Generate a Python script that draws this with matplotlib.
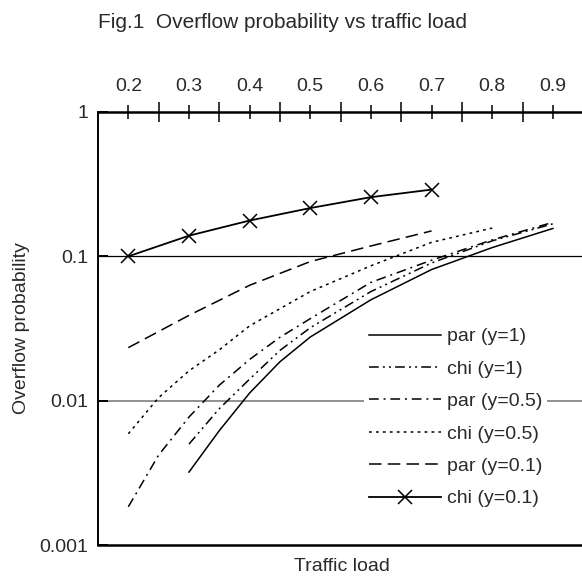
import matplotlib
matplotlib.use("Agg")
import matplotlib.pyplot as plt
from matplotlib.ticker import FixedLocator, NullFormatter

plt.rcParams['font.family'] = ['Liberation Sans', 'DejaVu Sans']
plt.rcParams['lines.scale_dashes'] = False

# overflow probability per traffic load, one pair of arrays per curve
par_y1_x = [0.3, 0.35, 0.4, 0.45, 0.5, 0.6, 0.7, 0.8, 0.9]
par_y1 = [0.0032, 0.0062, 0.0113, 0.0186, 0.0276, 0.050, 0.081, 0.115, 0.156]

chi_y1_x = [0.3, 0.35, 0.4, 0.45, 0.5, 0.6, 0.7, 0.8, 0.9]
chi_y1 = [0.0050, 0.0088, 0.0141, 0.0223, 0.032, 0.057, 0.090, 0.128, 0.168]

par_y05_x = [0.2, 0.25, 0.3, 0.35, 0.4, 0.45, 0.5, 0.6, 0.7, 0.8, 0.9]
par_y05 = [0.00184, 0.0042, 0.0077, 0.0128, 0.0193, 0.0275, 0.037, 0.066, 0.094, 0.130, 0.172]

chi_y05_x = [0.2, 0.25, 0.3, 0.35, 0.4, 0.5, 0.6, 0.7, 0.8]
chi_y05 = [0.0059, 0.0105, 0.0161, 0.0225, 0.033, 0.057, 0.086, 0.125, 0.157]

par_y01_x = [0.2, 0.3, 0.4, 0.5, 0.6, 0.7]
par_y01 = [0.0233, 0.039, 0.063, 0.092, 0.118, 0.150]

chi_y01_x = [0.2, 0.3, 0.4, 0.5, 0.6, 0.7]
chi_y01 = [0.100, 0.139, 0.177, 0.216, 0.257, 0.290]

x_ticks = [0.2, 0.3, 0.4, 0.5, 0.6, 0.7, 0.8, 0.9]
x_minor = [0.25, 0.35, 0.45, 0.55, 0.65, 0.75, 0.85]
y_ticks = [0.001, 0.01, 0.1, 1]
y_labels = ['0.001', '0.01', '0.1', '1']

text_col = '#2a2a2a'
fs = 14

fig = plt.figure(figsize=(5.82, 5.82), dpi=100)
ax = fig.add_axes([98 / 582, 37 / 582, 487 / 582, 433 / 582])

ax.set_yscale('log')
ax.set_xlim(0.15, 0.953)
ax.set_ylim(0.001, 1)

# reference levels
ax.axhline(0.1, color='black', lw=0.9, zorder=1)
ax.axhline(0.01, color='#888888', lw=1.3, zorder=1)

lw = 1.1
ax.plot(par_y1_x, par_y1, color='black', lw=lw, ls='-', label='par (y=1)')
ax.plot(chi_y1_x, chi_y1, color='black', lw=lw,
        ls=(0, (7, 3, 1.4, 3, 1.4, 3)), label='chi (y=1)')
ax.plot(par_y05_x, par_y05, color='black', lw=lw,
        ls=(0, (7, 3.5, 1.4, 3.5)), label='par (y=0.5)')
ax.plot(chi_y05_x, chi_y05, color='black', lw=lw,
        ls=(0, (2, 3)), label='chi (y=0.5)')
ax.plot(par_y01_x, par_y01, color='black', lw=lw,
        ls=(0, (9, 4.5)), label='par (y=0.1)')
ax.plot(chi_y01_x, chi_y01, color='black', lw=1.3, ls='-',
        marker='x', markersize=10, markeredgewidth=1.1, label='chi (y=0.1)')

# spines: left, bottom and the top axis carrying the load scale
ax.spines['right'].set_visible(False)
ax.spines['top'].set_linewidth(1.8)
ax.spines['bottom'].set_linewidth(1.8)
ax.spines['left'].set_linewidth(1.4)

ax.xaxis.tick_top()
ax.xaxis.set_major_locator(FixedLocator(x_ticks))
ax.xaxis.set_minor_locator(FixedLocator(x_minor))
ax.set_xticklabels([f'{v:.1f}' for v in x_ticks])
ax.xaxis.set_minor_formatter(NullFormatter())
ax.tick_params(axis='x', which='major', direction='inout', length=10,
               width=1.1, pad=7, labelsize=fs, labelcolor=text_col)
ax.tick_params(axis='x', which='minor', direction='inout', length=14.5,
               width=1.1)

ax.yaxis.set_major_locator(FixedLocator(y_ticks))
ax.yaxis.set_minor_locator(FixedLocator([]))
ax.set_yticklabels(y_labels)
ax.tick_params(axis='y', which='major', direction='in', length=7,
               width=1.4, pad=7, labelsize=fs, labelcolor=text_col)

ax.set_ylabel('Overflow probability', fontsize=fs, color=text_col)
ax.yaxis.set_label_coords(-0.14, 0.5)
ax.set_xlabel('Traffic load', fontsize=fs, color=text_col)
ax.xaxis.set_label_position('bottom')
ax.xaxis.set_label_coords(0.5, -0.03)

leg = ax.legend(loc='upper left', bbox_to_anchor=(364 / 582, 1 - 323 / 582),
                bbox_transform=fig.transFigure, fontsize=fs, frameon=True,
                fancybox=False, framealpha=1, edgecolor='none',
                facecolor='white', handlelength=3.7, handletextpad=0.3,
                labelspacing=0.76, borderpad=0.25, borderaxespad=0,
                numpoints=1)
for t in leg.get_texts():
    t.set_color(text_col)

fig.text(98 / 582, 1 - 22 / 582, 'Fig.1  Overflow probability vs traffic load',
         fontsize=15, color=text_col, ha='left', va='center')

plt.savefig('out.png', dpi=100)
plt.close()
